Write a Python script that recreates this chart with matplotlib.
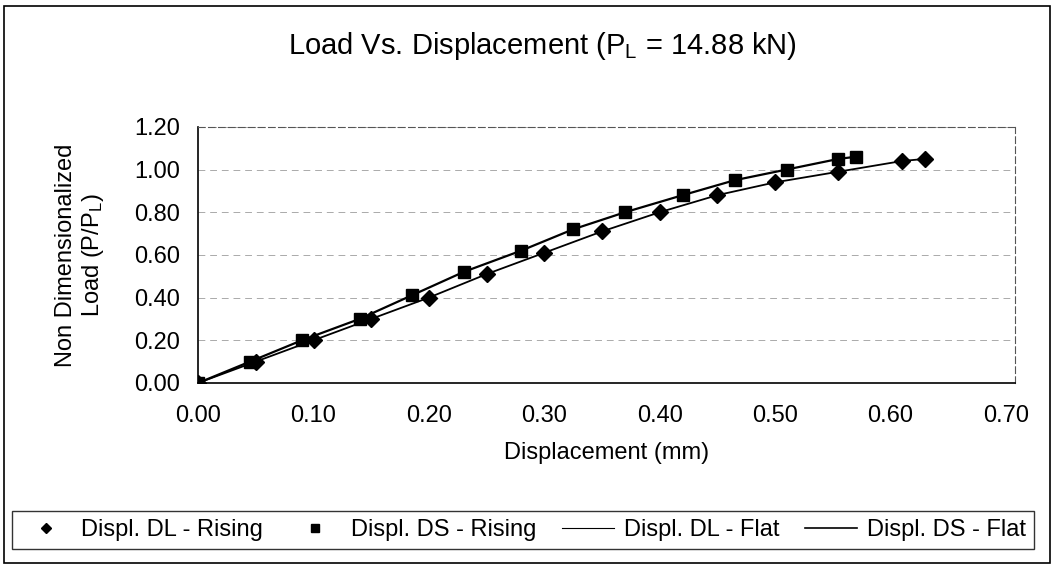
import matplotlib
matplotlib.use("Agg")
import matplotlib.pyplot as plt
from matplotlib.patches import Rectangle
from matplotlib.lines import Line2D

plt.rcParams['font.family'] = ['Liberation Sans', 'DejaVu Sans']
plt.rcParams['mathtext.fontset'] = 'custom'
plt.rcParams['mathtext.rm'] = 'Liberation Sans'
plt.rcParams['mathtext.it'] = 'Liberation Sans'

# Data
dl_x = [0.00, 0.05, 0.10, 0.15, 0.20, 0.25, 0.30, 0.35, 0.40, 0.45, 0.50, 0.555, 0.61, 0.63]
dl_y = [0.00, 0.10, 0.20, 0.30, 0.40, 0.51, 0.61, 0.71, 0.80, 0.88, 0.94, 0.99, 1.04, 1.05]
ds_x = [0.00, 0.045, 0.09, 0.14, 0.185, 0.23, 0.28, 0.325, 0.37, 0.42, 0.465, 0.51, 0.555, 0.57]
ds_y = [0.00, 0.10, 0.20, 0.30, 0.41, 0.52, 0.62, 0.72, 0.80, 0.88, 0.95, 1.00, 1.05, 1.06]
dl_flat_x = dl_x
dl_flat_y = dl_y
ds_flat_x = ds_x
ds_flat_y = ds_y

x_ticks = [0.0, 0.1, 0.2, 0.3, 0.4, 0.5, 0.6, 0.7]
y_ticks = [0.0, 0.2, 0.4, 0.6, 0.8, 1.0, 1.2]

FS = 17

fig = plt.figure(figsize=(10.54, 5.69), dpi=100)
ax = fig.add_axes([0.188, 0.327, 0.775, 0.450])

ax.plot(dl_flat_x, dl_flat_y, color='black', lw=1.3, zorder=2)
ax.plot(ds_flat_x, ds_flat_y, color='black', lw=1.6, zorder=2)
ax.plot(dl_x, dl_y, linestyle='none', marker='D', markersize=8, color='black', zorder=3)
ax.plot(ds_x, ds_y, linestyle='none', marker='s', markersize=9, color='black', zorder=3)

ax.set_xlim(0, 0.708)
ax.set_ylim(0, 1.2)
ax.set_xticks(x_ticks)
ax.set_xticklabels([f"{v:.2f}" for v in x_ticks], fontsize=FS)
ax.set_yticks(y_ticks)
ax.set_yticklabels([f"{v:.2f}" for v in y_ticks], fontsize=FS)
ax.tick_params(length=0)
ax.tick_params(axis='x', pad=16)
ax.tick_params(axis='y', pad=13)

ax.grid(axis='y', color='#aaaaaa', linestyle=(0, (7, 5)), linewidth=0.7)
ax.set_axisbelow(True)
for s in ['left', 'bottom']:
    ax.spines[s].set_color('black')
    ax.spines[s].set_linewidth(1.2)
for s in ['top', 'right']:
    ax.spines[s].set_color('#555555')
    ax.spines[s].set_linewidth(0.8)
    ax.spines[s].set_linestyle((0, (6, 3)))

ax.set_xlabel("Displacement (mm)", fontsize=FS, labelpad=11)
ax.set_ylabel("Non Dimensionalized\nLoad (P/P$\\mathregular{_L}$)", fontsize=FS,
              labelpad=20, linespacing=1.15)
fig.text(0.515, 0.92, "Load Vs. Displacement (P$\\mathregular{_L}$ = 14.88 kN)",
         ha='center', va='center', fontsize=21)

handles = [
    Line2D([], [], linestyle='none', marker='D', markersize=5, color='black'),
    Line2D([], [], linestyle='none', marker='s', markersize=6, color='black'),
    Line2D([], [], color='black', lw=0.8),
    Line2D([], [], color='black', lw=1.2),
]
labels = ["Displ. DL - Rising", "Displ. DS - Rising", "Displ. DL - Flat", "Displ. DS - Flat"]
leg = fig.legend(handles, labels, loc='lower left', bbox_to_anchor=(0.011, 0.035, 0.97, 0.075),
                 mode='expand', ncol=4, fontsize=FS, frameon=True, fancybox=False,
                 edgecolor='black', handlelength=2.2, handletextpad=0.4,
                 columnspacing=0.6, borderpad=0.35, borderaxespad=0)
leg.get_frame().set_linewidth(1.0)

fig.patches.append(Rectangle((0.004, 0.01), 0.992, 0.98, transform=fig.transFigure,
                             fill=False, edgecolor='black', linewidth=1.2))

fig.savefig("out.png", dpi=100)
